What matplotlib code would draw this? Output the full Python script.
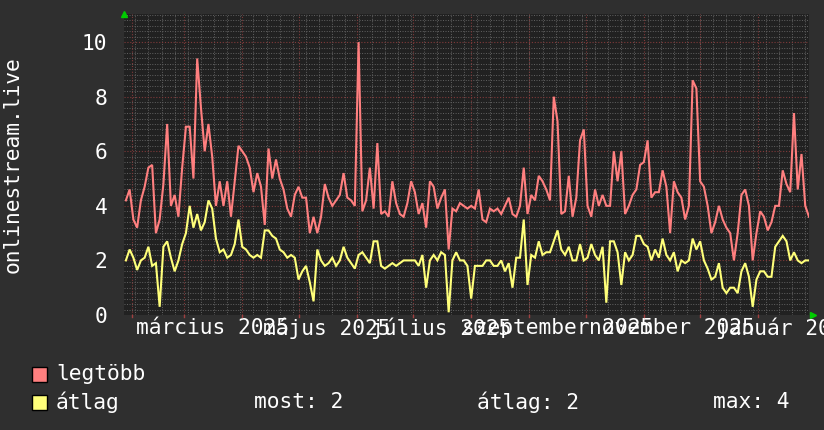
import numpy as np
import matplotlib
matplotlib.use('Agg')
import matplotlib.pyplot as plt
import matplotlib.dates as mdates
from matplotlib.patches import Rectangle

# ---------------- data ----------------
start_date = '2025-01-28'
end_date = '2026-01-28'
step_days = 2

legtobb = [4.2, 4.6, 3.5, 3.2, 4.2, 4.7, 5.4, 5.5, 3.0, 3.5, 4.8, 7.0, 4.0, 4.4, 3.6, 5.4, 6.9, 6.9, 5.0, 9.4,
           7.6, 6.0, 7.0, 5.8, 4.0, 4.9, 4.0, 4.9, 3.6, 4.9, 6.2,
           6.0, 5.8, 5.4, 4.5, 5.2, 4.7, 3.3, 6.1, 5.0, 5.7, 5.0, 4.6, 3.9, 3.6, 4.4, 4.7, 4.3, 4.3, 3.0,
           3.6, 3.0, 3.6, 4.8, 4.3, 4.0, 4.2, 4.4, 5.2, 4.3, 4.2,
           4.0, 10.0, 3.8, 4.2, 5.4, 3.9, 6.3, 3.7, 3.8, 3.6, 4.9, 4.1, 3.7, 3.6, 4.1, 4.9, 4.5, 3.7, 4.1,
           3.2, 4.9, 4.7, 3.9, 4.3, 4.6, 2.4, 3.9, 3.8, 4.1, 4.0, 3.9,
           4.0, 3.9, 4.6, 3.5, 3.4, 3.9, 3.8, 3.9, 3.7, 4.0, 4.3, 3.7, 3.6, 4.0, 5.4, 3.7, 4.4, 4.2, 5.1,
           4.9, 4.6, 4.2, 8.0, 7.1, 3.7, 3.8, 5.1, 3.6, 4.3, 6.4,
           6.8, 4.0, 3.6, 4.6, 4.0, 4.4, 4.0, 4.0, 6.0, 4.9, 6.0, 3.7, 4.0, 4.4, 4.6, 5.5, 5.6, 6.4, 4.3,
           4.5, 4.5, 5.3, 4.7, 3.0, 4.9, 4.5, 4.3, 3.5, 4.0, 8.6, 8.3,
           4.9, 4.7, 4.0, 3.0, 3.4, 4.0, 3.5, 3.2, 3.0, 2.0, 3.0, 4.4, 4.6, 4.0, 2.0, 3.0, 3.8, 3.6, 3.1,
           3.4, 4.0, 4.0, 5.3, 4.8, 4.5, 7.4, 4.6, 5.9, 4.0, 3.6]

atlag = [2.0, 2.4, 2.1, 1.65, 2.0, 2.1, 2.5, 1.8, 1.9, 0.3, 2.5, 2.7, 2.1, 1.6, 2.0, 2.6, 3.0, 4.0, 3.2, 3.7,
         3.1, 3.4, 4.2, 3.9, 2.8, 2.3, 2.4, 2.1, 2.2, 2.6, 3.5,
         2.5, 2.4, 2.2, 2.1, 2.2, 2.1, 3.1, 3.1, 2.9, 2.8, 2.4, 2.3, 2.1, 2.2, 2.1, 1.3, 1.6, 1.8, 1.2,
         0.5, 2.4, 2.0, 1.8, 1.9, 2.1, 1.8, 2.0, 2.5, 2.1, 1.9,
         1.7, 2.2, 2.3, 2.1, 1.9, 2.7, 2.7, 1.8, 1.7, 1.8, 1.9, 1.8, 1.9, 2.0, 2.0, 2.0, 2.0, 1.8, 2.2,
         1.0, 2.0, 2.2, 2.0, 2.3, 2.2, 0.1, 2.0, 2.3, 2.0, 2.0, 1.8,
         0.6, 1.8, 1.8, 1.8, 2.0, 2.0, 1.8, 1.8, 2.0, 1.6, 1.9, 1.0, 2.1, 2.1, 3.5, 1.1, 2.2, 2.1, 2.7,
         2.2, 2.3, 2.3, 2.7, 3.1, 2.4, 2.2, 2.5, 2.0, 2.0, 2.6,
         2.0, 2.1, 2.6, 2.2, 2.0, 2.5, 0.45, 2.7, 2.7, 2.3, 1.1, 2.3, 2.0, 2.2, 2.9, 2.9, 2.6, 2.5, 2.0,
         2.4, 2.1, 2.8, 2.2, 2.0, 2.3, 1.6, 2.0, 1.9, 2.0, 2.8, 2.4,
         2.7, 2.0, 1.7, 1.3, 1.4, 1.9, 1.0, 0.8, 1.0, 1.0, 0.8, 1.6, 1.9, 1.4, 0.3, 1.3, 1.6, 1.6, 1.4,
         1.4, 2.5, 2.7, 2.9, 2.7, 2.0, 2.3, 2.0, 1.9, 2.0, 2.0]

x_label_months = ['2025-03', '2025-05', '2025-07', '2025-09', '2025-11', '2026-01']
x_labels = ['március 2025', 'május 2025', 'július 2025', 'szeptember 2025', 'november 2025', 'január 2026']
y_ticks = [0, 2, 4, 6, 8, 10]
y_title = 'onlinestream.live'
series_names = ['legtöbb', 'átlag']
stats_texts = ['most: 2', 'átlag: 2', 'max: 4']

# ---------------- style ----------------
BG = '#2f2f2f'
CANVAS = '#212121'
RED = '#ff7f7f'
YEL = '#ffff7a'
MINOR = '#626262'
MAJOR = '#803a3a'
GREEN = '#00cc00'
FONT = 'DejaVu Sans Mono'
FS = 15.3

plt.rcParams['font.family'] = [FONT, 'DejaVu Sans']

W, H = 824, 430
fig = plt.figure(figsize=(W / 100, H / 100), dpi=100, facecolor=BG)
L, R, T, B = 124, 809, 14, 315
ax = fig.add_axes([L / W, 1 - B / H, (R - L) / W, (B - T) / H])
ax.set_facecolor(CANVAS)
for s in ax.spines.values():
    s.set_visible(False)

t0 = np.datetime64(start_date)
t1 = np.datetime64(end_date)
times = t0 + np.arange(len(legtobb)) * np.timedelta64(step_days, 'D')
xc = mdates.date2num(times) + step_days / 2.0   # centre of each sampling interval
x0, x1 = mdates.date2num(t0), mdates.date2num(t1)
ax.set_xlim(x0, x1)
ymax = 11.03
ax.set_ylim(0, ymax)

dot = (0, (1, 1.6))
# horizontal grid
for v in np.arange(0.2, ymax, 0.2):
    if abs(v / 2 - round(v / 2)) < 1e-6:
        continue
    ax.axhline(v, color=MINOR, lw=0.7, ls=dot, zorder=1)
for v in y_ticks[1:]:
    ax.axhline(v, color=MAJOR, lw=0.8, ls=dot, zorder=1.5)
# vertical grid: weeks (minor) and months (major)
weeks = np.arange(np.datetime64('2025-02-03'), t1, np.timedelta64(7, 'D'))
for w in weeks:
    ax.axvline(mdates.date2num(w), color=MINOR, lw=0.7, ls=dot, zorder=1)
months = np.arange(np.datetime64('2025-02'), np.datetime64('2026-02'), np.timedelta64(1, 'M')).astype('datetime64[D]')
for m in months:
    ax.axvline(mdates.date2num(m), color=MAJOR, lw=0.8, ls=dot, zorder=1.5)
    ax.plot([mdates.date2num(m)] * 2, [0, -0.08], color='#a04040', lw=1, clip_on=False, zorder=3)

# series
ax.plot(xc, legtobb, color=RED, lw=1.5, zorder=4, solid_joinstyle='miter')
ax.plot(xc, atlag, color=YEL, lw=1.5, zorder=5, solid_joinstyle='miter')

# ticks
lab_pos = [mdates.date2num(np.datetime64(m + '-16')) for m in x_label_months]
ax.set_xticks(lab_pos)
ax.set_xticklabels(x_labels)
ax.tick_params(axis='x', length=0, pad=2, labelsize=FS, labelcolor='white')
ax.set_yticks(y_ticks)
ax.set_yticklabels([str(v) for v in y_ticks])
ax.tick_params(axis='y', length=0, pad=12, labelsize=FS, labelcolor='white')
for lbl in ax.get_xticklabels():
    lbl.set_clip_on(False)

# axis arrows
ax.plot([0], [1.0], marker='^', color=GREEN, ms=5, transform=ax.transAxes, clip_on=False, zorder=6)
ax.plot([1.006], [0], marker='>', color=GREEN, ms=5, transform=ax.transAxes, clip_on=False, zorder=6)

# y title
fig.text(13 / W, 1 - 165 / H, y_title, rotation=90, ha='center', va='center',
         color='white', fontsize=FS, family=FONT)

# legend
rows_y = [374, 402]
colors = [RED, YEL]
for name, c, yy in zip(series_names, colors, rows_y):
    fig.patches.append(Rectangle((32 / W, 1 - (yy + 7.5) / H), 15 / W, 15 / H,
                                 transform=fig.transFigure, facecolor=c, edgecolor='black', lw=1))
    fig.text(56 / W, 1 - yy / H, name, ha='left', va='center', color='white', fontsize=FS, family=FONT)
for txt, xx in zip(stats_texts, [254, 477, 713]):
    fig.text(xx / W, 1 - rows_y[1] / H, txt, ha='left', va='center', color='white', fontsize=FS, family=FONT)

fig.savefig('out.png', dpi=100, facecolor=BG)
